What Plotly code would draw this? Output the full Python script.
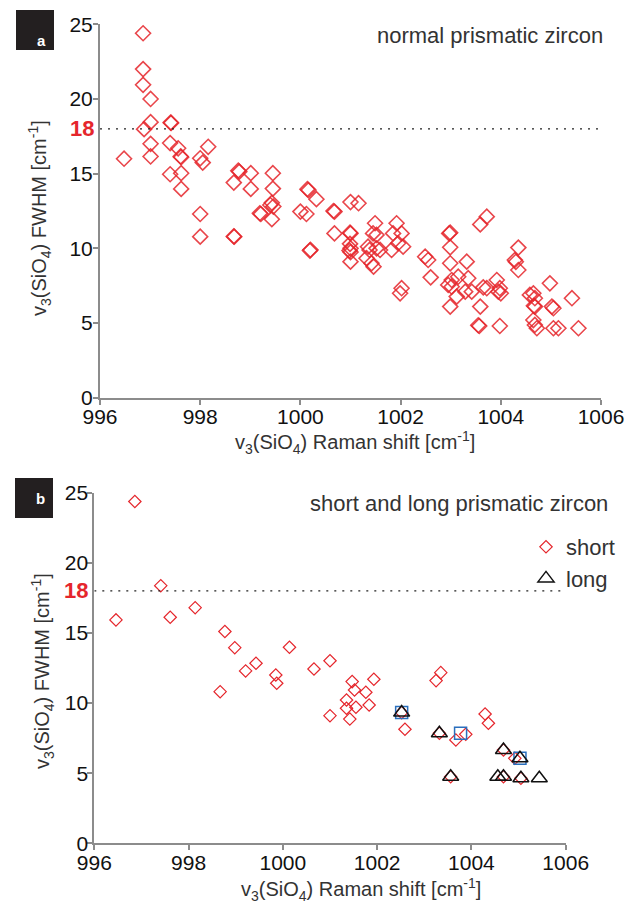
import plotly.graph_objects as go

# ---------------- data ----------------
# Panel a: normal prismatic zircon (Raman shift, FWHM)
normal_shift = [
    996.48, 996.86, 996.86, 996.86, 997.01, 997.01, 996.88, 997.41, 997.42, 997.01,
    997.01, 997.40, 997.56, 997.61, 997.62, 997.40, 997.62, 997.62, 998.00, 998.05,
    998.16, 998.00, 998.00, 998.67, 998.78, 998.76, 998.68, 998.67, 999.01, 999.01,
    999.21, 999.19, 999.45, 999.45, 999.43, 999.46, 999.40, 999.43, 1000.00, 1000.12,
    1000.14, 1000.16, 1000.32, 1000.19, 1000.20, 1000.68, 1000.66, 1000.68, 1001.00, 1001.16,
    1000.99, 1001.00, 1000.99, 1001.00, 1000.98, 1001.00, 1001.00, 1001.49, 1001.45, 1001.52,
    1001.35, 1001.38, 1001.52, 1001.59, 1001.32, 1001.42, 1001.46, 1001.92, 1001.85, 1002.02,
    1001.95, 1002.05, 1001.82, 1002.02, 1001.99, 1002.49, 1002.55, 1002.60, 1002.99, 1002.97,
    1002.99, 1002.99, 1003.02, 1002.95, 1003.02, 1002.99, 1003.12, 1003.32, 1003.15, 1003.35,
    1003.29, 1003.42, 1003.59, 1003.57, 1003.55, 1003.98, 1003.59, 1003.72, 1003.65, 1003.72,
    1003.92, 1003.98, 1003.95, 1004.00, 1004.35, 1004.28, 1004.30, 1004.35, 1004.65, 1004.58,
    1004.68, 1004.68, 1004.66, 1004.65, 1004.68, 1004.72, 1004.98, 1005.02, 1005.05, 1005.05,
    1005.15, 1005.42, 1005.55,
]
normal_fwhm = [
    16.00, 24.40, 22.00, 20.95, 20.00, 18.45, 17.98, 18.42, 18.40, 17.00,
    16.15, 17.05, 16.70, 16.15, 16.10, 14.96, 15.03, 13.98, 16.03, 15.74,
    16.80, 12.30, 10.78, 14.40, 15.14, 15.20, 10.78, 10.80, 15.03, 13.98,
    12.30, 12.35, 15.03, 14.00, 13.05, 12.80, 12.90, 11.95, 12.46, 12.30,
    13.96, 13.90, 13.29, 9.85, 9.90, 12.46, 12.50, 11.00, 13.10, 13.02,
    11.05, 11.00, 10.30, 10.00, 9.85, 9.75, 9.11, 11.68, 11.00, 10.90,
    10.11, 9.89, 10.00, 9.89, 9.34, 9.00, 8.77, 11.68, 11.00, 11.00,
    10.34, 10.11, 9.89, 7.33, 6.99, 9.44, 9.22, 8.06, 11.05, 11.00,
    10.07, 9.00, 7.88, 7.55, 7.43, 6.10, 6.77, 9.11, 8.10, 8.00,
    7.10, 7.10, 6.10, 4.80, 4.85, 4.80, 11.60, 12.12, 7.39, 7.33,
    7.88, 7.33, 7.10, 6.99, 10.05, 9.22, 9.10, 8.55, 6.99, 6.88,
    6.66, 6.10, 6.15, 5.20, 4.87, 4.65, 7.66, 6.10, 5.99, 4.65,
    4.65, 6.66, 4.65,
]

# Panel b: short prismatic zircon
short_shift = [
    996.46, 996.86, 997.41, 997.61, 998.14, 998.67, 998.77, 998.98, 999.21, 999.43,
    999.85, 999.87, 1000.14, 1000.66, 1001.00, 1001.00, 1001.35, 1001.35, 1001.42, 1001.47,
    1001.52, 1001.55, 1001.76, 1001.83, 1001.93, 1002.52, 1002.59, 1003.25, 1003.35, 1003.32,
    1003.67, 1003.88, 1004.29, 1004.36, 1004.68, 1004.92, 1003.56, 1004.68, 1005.05,
]
short_fwhm = [
    15.93, 24.37, 18.37, 16.12, 16.80, 10.81, 15.10, 13.95, 12.29, 12.84,
    12.00, 11.41, 13.98, 12.43, 13.02, 9.10, 10.22, 9.63, 8.86, 11.53,
    10.93, 9.70, 10.77, 9.86, 11.70, 9.32, 8.13, 11.60, 12.17, 7.85,
    7.37, 7.77, 9.22, 8.56, 6.65, 6.06, 4.75, 4.75, 4.64,
]

# Panel b: long prismatic zircon
long_shift = [1002.52, 1003.32, 1004.68, 1005.03, 1003.56, 1004.56, 1004.68, 1005.05, 1005.44]
long_fwhm = [9.32, 7.85, 6.65, 6.06, 4.75, 4.75, 4.75, 4.64, 4.64]

# Panel b: highlighted (blue squares)
marked_shift = [1002.52, 1003.77, 1005.03]
marked_fwhm = [9.32, 7.85, 6.06]

threshold = 18
x_ticks = [996, 998, 1000, 1002, 1004, 1006]
y_ticks = [0, 5, 10, 15, 20, 25]

# ---------------- styling ----------------
W, H = 639, 908
RED = "#e5262c"
AXIS_GRAY = "#8c8c8c"
TEXT_DARK = "#333333"
FONT = "Liberation Sans, Arial, sans-serif"

def px_x(p):
    return p / W

def px_y(p):
    return 1 - p / H

fig = go.Figure()

fig.add_trace(go.Scatter(
    x=normal_shift, y=normal_fwhm, mode="markers",
    marker=dict(symbol="diamond-open", size=11.5, color=RED, opacity=0.85,
                line=dict(width=1.6, color=RED)),
    showlegend=False, xaxis="x", yaxis="y",
))

fig.add_trace(go.Scatter(
    x=short_shift, y=short_fwhm, mode="markers", name="short",
    marker=dict(symbol="diamond-open", size=9.5, color=RED,
                line=dict(width=1.2, color=RED)),
    xaxis="x2", yaxis="y2",
))
fig.add_trace(go.Scatter(
    x=marked_shift, y=marked_fwhm, mode="markers", showlegend=False,
    marker=dict(symbol="square-open", size=12, color="#2a6fbd",
                line=dict(width=1.5, color="#2a6fbd")),
    xaxis="x2", yaxis="y2",
))
fig.add_trace(go.Scatter(
    x=long_shift, y=long_fwhm, mode="markers", name="long",
    marker=dict(symbol="triangle-up-open", size=14, color="#111111",
                line=dict(width=1.5, color="#111111")),
    xaxis="x2", yaxis="y2",
))

axis_common = dict(
    showline=True, linecolor=AXIS_GRAY, linewidth=2,
    ticks="outside", ticklen=5, tickwidth=2, tickcolor=AXIS_GRAY,
    showgrid=False, zeroline=False, mirror=False, automargin=False,
    tickfont=dict(family=FONT, size=21, color="#111111"),
)

fig.update_layout(
    template="none",
    width=W, height=H,
    margin=dict(l=0, r=0, t=0, b=0, pad=0),
    paper_bgcolor="white", plot_bgcolor="white",
    font=dict(family=FONT),
    xaxis=dict(domain=[px_x(100), px_x(601)], range=[996, 1006], tickvals=x_ticks,
               anchor="y", ticklabelstandoff=-6, **axis_common),
    yaxis=dict(domain=[px_y(397.7), px_y(24.3)], range=[0, 25], tickvals=y_ticks,
               anchor="x", ticklabelstandoff=-4, **axis_common),
    xaxis2=dict(domain=[px_x(94.3), px_x(565.7)], range=[996, 1006], tickvals=x_ticks,
                anchor="y2", ticklabelstandoff=-6, **axis_common),
    yaxis2=dict(domain=[px_y(843.3), px_y(492.7)], range=[0, 25], tickvals=y_ticks,
                anchor="x2", ticklabelstandoff=-5, **axis_common),
    showlegend=True,
    legend=dict(x=px_x(526), y=px_y(526), xanchor="left", yanchor="top",
                bgcolor="rgba(0,0,0,0)", itemwidth=30, tracegroupgap=0,
                font=dict(family=FONT, size=22, color=TEXT_DARK)),
)

# threshold dotted lines
fig.add_shape(type="line", xref="x", yref="y", x0=996, x1=1006, y0=threshold, y1=threshold,
              line=dict(color="#222222", width=1.4, dash="2px,6px"))
fig.add_shape(type="line", xref="x2", yref="y2", x0=996, x1=1005.9, y0=threshold, y1=threshold,
              line=dict(color="#222222", width=1.4, dash="2px,6px"))

# panel label boxes
for (x0, y0, x1, y1, lab) in [(16, 10, 54, 50, "a"), (15, 478, 53, 518, "b")]:
    fig.add_shape(type="rect", xref="paper", yref="paper",
                  x0=px_x(x0), x1=px_x(x1), y0=px_y(y1), y1=px_y(y0),
                  fillcolor="#231f20", line=dict(width=0))
    fig.add_annotation(x=px_x((x0 + x1) / 2), y=px_y((y0 + y1) / 2), xref="paper", yref="paper",
                       text=f"<b>{lab}</b>", showarrow=False,
                       font=dict(family=FONT, size=15, color="white"))

ylab = "v<sub>3</sub>(SiO<sub>4</sub>) FWHM [cm<sup>-1</sup>]"
xlab = "v<sub>3</sub>(SiO<sub>4</sub>) Raman shift [cm<sup>-1</sup>]"

annos = [
    dict(x=px_x(605), y=px_y(36), text="normal prismatic zircon", xanchor="right", size=22, color=TEXT_DARK),
    dict(x=px_x(610), y=px_y(503), text="short and long prismatic zircon", xanchor="right", size=22, color=TEXT_DARK),
    dict(x=px_x(355), y=px_y(442), text=xlab, xanchor="center", size=20, color=TEXT_DARK),
    dict(x=px_x(361), y=px_y(889), text=xlab, xanchor="center", size=20, color=TEXT_DARK),
]
for a in annos:
    fig.add_annotation(x=a["x"], y=a["y"], xref="paper", yref="paper", text=a["text"],
                       showarrow=False, xanchor=a["xanchor"], yanchor="middle",
                       font=dict(family=FONT, size=a["size"], color=a["color"]))

for (cx, cy) in [(40, 218), (42, 671)]:
    fig.add_annotation(x=px_x(cx), y=px_y(cy), xref="paper", yref="paper", text=ylab,
                       showarrow=False, textangle=-90, xanchor="center", yanchor="middle",
                       font=dict(family=FONT, size=20, color=TEXT_DARK))

# red "18" labels
fig.add_annotation(x=px_x(96), y=threshold, xref="paper", yref="y", text=f"<b>{threshold}</b>",
                   showarrow=False, xanchor="right", yanchor="middle",
                   font=dict(family=FONT, size=22, color=RED))
fig.add_annotation(x=px_x(90), y=threshold, xref="paper", yref="y2", text=f"<b>{threshold}</b>",
                   showarrow=False, xanchor="right", yanchor="middle",
                   font=dict(family=FONT, size=22, color=RED))

fig.write_html("out.html")
